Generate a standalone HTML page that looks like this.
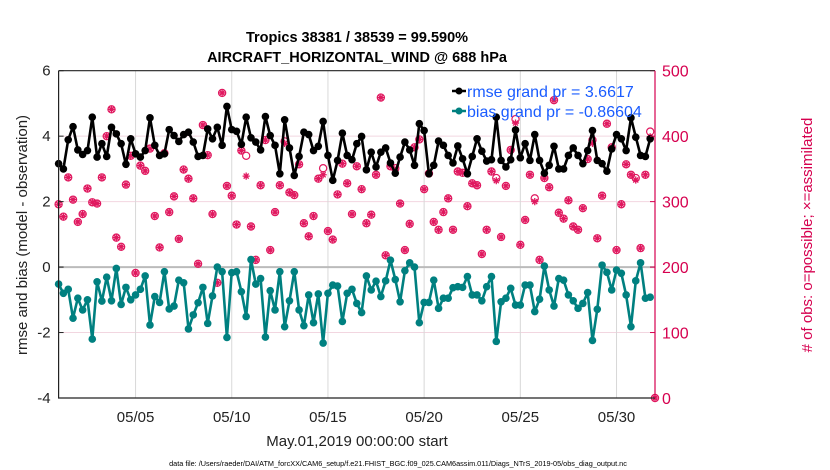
<!DOCTYPE html>
<html><head><meta charset="utf-8"><style>
html,body{margin:0;padding:0;background:#fff;}
svg{display:block;font-family:"Liberation Sans",Arial,sans-serif;}
</style></head><body>
<svg id="chart" width="830" height="470" viewBox="0 0 830 470" xmlns="http://www.w3.org/2000/svg">
<rect x="0" y="0" width="830" height="470" fill="#fff"/>
<text x="357" y="42" text-anchor="middle" font-size="14.5" font-weight="bold" fill="#000">Tropics 38381 / 38539 = 99.590%</text>
<text x="357" y="62" text-anchor="middle" font-size="14.5" font-weight="bold" fill="#000">AIRCRAFT_HORIZONTAL_WIND @ 688 hPa</text>
<g id="grid"></g>
<g id="obs"></g>
<g id="series"></g>
<g id="axes"></g>
<text transform="translate(27,235) rotate(-90)" text-anchor="middle" font-size="15" fill="#222">rmse and bias (model - observation)</text>
<text transform="translate(812,235) rotate(-90)" text-anchor="middle" font-size="15" fill="#d6004f"># of obs: o=possible; ×=assimilated</text>
<text x="357" y="446" text-anchor="middle" font-size="15" fill="#222">May.01,2019 00:00:00 start</text>
<text x="398" y="466" text-anchor="middle" font-size="7.3" fill="#000">data file: /Users/raeder/DAI/ATM_forcXX/CAM6_setup/f.e21.FHIST_BGC.f09_025.CAM6assim.011/Diags_NTrS_2019-05/obs_diag_output.nc</text>
<g>
<line x1="452" y1="91" x2="466" y2="91" stroke="#000" stroke-width="2.5"/>
<circle cx="459" cy="91" r="3.5" fill="#000"/>
<text x="467" y="97" font-size="16" fill="#1a5cff">rmse grand pr = 3.6617</text>
<line x1="452" y1="111" x2="466" y2="111" stroke="#008080" stroke-width="2.5"/>
<circle cx="459" cy="111" r="3.5" fill="#008080"/>
<text x="467" y="117" font-size="16" fill="#1a5cff">bias grand pr = -0.86604</text>
</g>
</svg>
<script>
const rmseValues = [3.16,3.0,3.89,4.29,3.58,3.44,3.56,4.58,3.36,3.77,3.38,4.27,4.07,3.77,3.14,3.92,3.46,3.36,3.56,4.56,3.72,3.41,3.46,4.2,4.02,3.84,4.05,4.12,3.82,3.38,3.41,4.22,3.92,4.27,3.72,4.91,4.2,4.15,3.75,4.58,3.95,3.82,
3.58,4.6,4.02,3.72,2.85,4.5,3.64,2.8,3.38,4.12,4.05,3.56,3.69,4.45,3.41,2.65,3.26,4.09,3.41,3.28,3.77,3.99,2.97,3.51,3.06,3.51,3.64,3.18,2.87,3.36,3.82,3.58,3.11,4.38,4.17,2.85,3.11,3.85,3.72,3.41,3.18,3.7,
3.31,2.85,3.38,3.92,3.54,3.24,3.28,4.58,3.26,3.06,3.28,4.19,3.34,3.77,3.26,4.05,3.26,2.87,3.11,3.69,3.0,3.0,3.41,3.64,3.41,3.16,3.56,4.17,3.26,3.16,2.93,3.61,4.05,3.92,3.56,4.56,3.97,3.41,3.38,3.92];
const biasValues = [-0.52,-0.8,-0.68,-1.56,-0.95,-1.31,-1.0,-2.2,-0.45,-1.04,-0.31,-1.03,-0.04,-1.14,-0.62,-1.0,-0.85,-0.68,-0.27,-1.77,-0.9,-1.08,-0.14,-1.28,-1.19,-0.4,-0.48,-1.89,-1.46,-1.09,-0.62,-1.72,-0.88,0,-0.14,-2.15,-0.17,-0.14,-0.75,-1.51,0.23,-0.52,
-0.35,-2.14,-0.72,-1.31,-0.14,-1.82,-1.03,-0.14,-1.31,-1.79,-0.85,-1.7,-0.82,-2.32,-0.8,-0.55,-0.58,-1.66,-0.8,-0.68,-1.11,-1.39,-0.27,-0.7,-0.43,-0.9,-0.42,0.21,-0.38,-1.06,-0.11,0.13,0,-1.7,-1.08,-1.08,-0.4,-1.26,-0.95,-0.95,-0.63,-0.6,
-0.62,-0.29,-0.85,-0.85,-1.03,-0.6,-0.29,-2.27,-1.06,-0.95,-0.65,-1.16,-1.16,-0.55,-0.55,-1.36,-0.98,0.03,-0.7,-1.19,-0.35,-0.4,-0.85,-1.03,-1.26,-1.11,-0.78,-2.24,-1.29,0.06,-0.16,-0.7,-0.09,-0.19,-0.85,-1.82,-0.42,0.13,-0.95,-0.92];
const obsPossible = [296,277,337,303,269,281,320,299,297,337,400,441,245,231,326,370,191,355,347,381,278,230,374,284,308,243,349,335,305,205,417,371,281,176,466,324,309,265,378,370,262,211,
325,394,226,284,325,392,314,310,357,267,247,278,335,351,255,242,311,358,328,281,354,319,267,280,341,459,218,354,351,297,226,266,383,395,319,343,269,257,284,305,257,346,
344,293,328,325,220,257,346,336,246,324,379,426,234,272,341,305,211,336,322,455,283,274,302,262,257,290,365,394,244,309,419,383,226,296,357,341,336,229,341,407,0];
const obsAssimilated = [296,277,337,303,269,281,320,299,297,337,400,441,245,231,326,370,191,355,347,381,278,230,374,284,308,243,349,335,305,205,417,371,281,176,466,324,309,265,378,339,262,211,
325,394,226,284,325,389,314,310,357,267,247,278,335,341,255,242,311,358,328,281,354,319,267,280,341,459,218,354,348,297,226,266,383,395,319,343,269,257,284,305,257,346,
344,293,328,325,220,257,346,332,246,324,379,420,234,272,341,300,211,336,322,455,283,274,302,262,257,290,365,389,244,309,419,383,226,296,357,341,333,229,341,399,0];
const leftTicks = [6,4,2,0,-2,-4];
const rightTicks = [500,400,300,200,100,0];
const xTickDays = [4,9,14,19,24,29];
const xTickLabels = ["05/05","05/10","05/15","05/20","05/25","05/30"];
const stepDays = 0.25;

const NS="http://www.w3.org/2000/svg";
const L=58.6, R=655, T=70.7, B=398;
const xS=d=>L+(R-L)*d/31;
const yL=v=>T+(B-T)*(6-v)/10;
const yR=v=>T+(B-T)*(500-v)/500;
function mk(tag,parent,attrs){const e=document.createElementNS(NS,tag);for(const k in attrs)e.setAttribute(k,attrs[k]);parent.appendChild(e);return e;}
const grid=document.getElementById('grid'), axes=document.getElementById('axes'), ser=document.getElementById('series'), obs=document.getElementById('obs');

leftTicks.forEach(v=>{
  if(v!==6&&v!==-4&&v!==0){const g=mk('line',grid,{x1:L,x2:R,y1:yL(v),y2:yL(v),stroke:'#f2d6e0','stroke-width':1});
  
  }
  const t=mk('text',axes,{x:L-8,y:yL(v)+5,'text-anchor':'end','font-size':15,fill:'#222'});t.textContent=v;
  
  
  const tk=mk('line',axes,{x1:L,x2:L+5,y1:yL(v),y2:yL(v),stroke:'#222'});
  
  
});
rightTicks.forEach(v=>{
  const t=mk('text',axes,{x:R+7,y:yR(v)+6,'font-size':16,fill:'#d6004f'});t.textContent=v;
  
  
  const tk=mk('line',axes,{x1:R-5,x2:R,y1:yR(v),y2:yR(v),stroke:'#d6004f'});
  
  
});
xTickDays.forEach((d,i)=>{
  const g=mk('line',grid,{x1:xS(d),x2:xS(d),y1:T,y2:B,stroke:'#d8d8d8','stroke-width':1});
  
  
  const t=mk('text',axes,{x:xS(d),y:422,'text-anchor':'middle','font-size':15,fill:'#222'});t.textContent=xTickLabels[i];
  
  
});
const z=mk('line',grid,{x1:L,x2:R,y1:yL(0),y2:yL(0),stroke:'#bbb','stroke-width':2});



obsPossible.forEach((v,i)=>{
  const x=i===obsPossible.length-1?xS(31):xS(i*stepDays);
  const c=mk('circle',obs,{cx:x,cy:yR(v),r:3.6,fill:'none',stroke:'#e0185f','stroke-width':1.2});
  
  
});
obsAssimilated.forEach((v,i)=>{
  const x=i===obsAssimilated.length-1?xS(31):xS(i*stepDays), y=yR(v), s=3.6;
  const g=mk('path',obs,{d:`M${x-s},${y}H${x+s}M${x},${y-s}V${y+s}M${x-s*.7},${y-s*.7}L${x+s*.7},${y+s*.7}M${x-s*.7},${y+s*.7}L${x+s*.7},${y-s*.7}`,stroke:'#e0185f','stroke-width':1.3});
  
  
});

function drawSeries(vals,color,name){
  const d=vals.map((v,i)=>(i?'L':'M')+xS(i*stepDays).toFixed(1)+','+yL(v).toFixed(1)).join('');
  const p=mk('path',ser,{d:d,fill:'none',stroke:color,'stroke-width':2.6,'stroke-linejoin':'round'});
  
  
  vals.forEach((v,i)=>{
    const c=mk('circle',ser,{cx:xS(i*stepDays),cy:yL(v),r:3.8,fill:color});
    
    
  });
}
drawSeries(biasValues,'#008080','bias');
drawSeries(rmseValues,'#000','rmse');

const fr=mk('path',axes,{d:`M${L},${T}H${R}M${L},${T}V${B}H${R}`,fill:'none',stroke:'#222','stroke-width':1.2});


const ra=mk('line',axes,{x1:R,x2:R,y1:T,y2:B,stroke:'#d6004f','stroke-width':1.2});


</script>
</body></html>
